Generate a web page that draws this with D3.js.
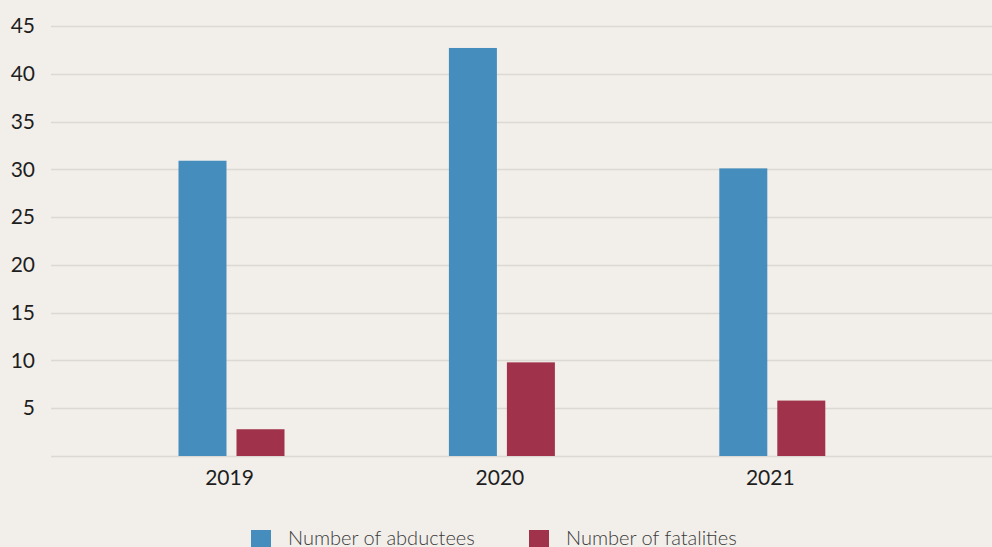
<!DOCTYPE html>
<html><head><meta charset="utf-8">
<script src="https://cdn.jsdelivr.net/npm/d3@7"></script>
<style>
html,body{margin:0;padding:0;background:#f2efeb;}
svg{display:block;font-family:Lato,"Open Sans",sans-serif;}
</style></head>
<body><svg id="c" width="992" height="547"></svg>
<script>
const years = ["2019", "2020", "2021"];
const seriesNames = ["Number of abductees", "Number of fatalities"];
const abductees = [30.9, 42.7, 30.1];
const fatalities = [2.8, 9.8, 5.8];
const yTicks = [5, 10, 15, 20, 25, 30, 35, 40, 45];
const colors = ["#458dbd", "#a0334b"];

const svg = d3.select("#c");
svg.append("rect").attr("width", 992).attr("height", 547).attr("fill", "#f2efeb");

const y = d3.scaleLinear().domain([0, 45]).range([456, 26]);
const x0 = d3.scaleBand().domain(years).range([94.3, 905.5]);
const x1 = d3.scaleBand().domain(seriesNames).range([-51, 55]).paddingInner(10 / 58);

// gridlines
const grid = svg.append("g");
grid.selectAll("line").data([0].concat(yTicks)).join("line")
  .attr("x1", 51).attr("x2", 992)
  .attr("y1", d => Math.round(y(d)) + 0.5).attr("y2", d => Math.round(y(d)) + 0.5)
  .attr("stroke", "#dcd8d2").attr("stroke-width", 1.3);

// y axis labels
const yAxis = d3.axisLeft(y).tickValues(yTicks).tickSize(0).tickPadding(0);
const ya = svg.append("g").attr("transform", "translate(35,0)").call(yAxis);
ya.select(".domain").remove();
ya.selectAll("text").attr("font-size", 21).attr("fill", "#1e1e1e")
  .attr("font-family", "Lato, sans-serif");

// bars
const data = years.map((yr, i) => ({ year: yr, values: [abductees[i], fatalities[i]] }));
const groups = svg.append("g").selectAll("g").data(data).join("g")
  .attr("transform", d => `translate(${x0(d.year) + x0.bandwidth() / 2},0)`);
groups.selectAll("rect").data(d => d.values.map((v, j) => ({ v, s: seriesNames[j], j })))
  .join("rect")
  .attr("x", d => x1(d.s))
  .attr("width", x1.bandwidth())
  .attr("y", d => y(d.v))
  .attr("height", d => y(0) - y(d.v))
  .attr("fill", d => colors[d.j]);

// x axis labels
const xAxis = d3.axisBottom(x0).tickSize(0).tickPadding(0);
const xa = svg.append("g").attr("transform", "translate(0,485)").call(xAxis);
xa.select(".domain").remove();
xa.selectAll("text").attr("font-size", 21).attr("fill", "#1e1e1e")
  .attr("font-family", "Lato, sans-serif").attr("dy", "0");

// legend
const legendX = [251, 529];
const leg = svg.append("g").selectAll("g").data(seriesNames).join("g")
  .attr("transform", (d, i) => `translate(${legendX[i]},530)`);
leg.append("rect").attr("width", 20).attr("height", 20).attr("fill", (d, i) => colors[i]);
leg.append("text").attr("x", 37).attr("y", 15).text(d => d)
  .attr("font-size", 20).attr("font-weight", 300).attr("fill", "#3a3a3a")
  .attr("font-family", "Lato, sans-serif");
</script></body></html>
